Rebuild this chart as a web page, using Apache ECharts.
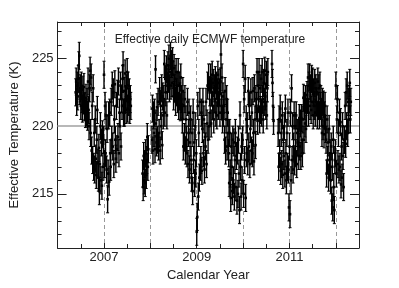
<!DOCTYPE html>
<html>
<head>
<meta charset="utf-8">
<script src="https://cdn.jsdelivr.net/npm/echarts@6/dist/echarts.min.js"></script>
<style>html,body{margin:0;padding:0;background:#fff}#c{width:399px;height:288px}</style>
</head>
<body>
<div id="c"></div>
<script>
// Daily effective temperature (K), sampled every 1/90 year from t0; null = no data
const t0 = 2006.39;
const perYear = 90;
const temps = [
  222.5,223.3,221.8,223.0,222.2,223.5,224.5,225.2,222.6,
  222.8,221.5,223.0,222.0,221.3,222.7,221.9,222.9,221.4,
  221.5,220.9,222.1,221.0,221.8,220.7,223.3,221.2,220.0,
  222.8,224.1,219.5,223.6,218.2,221.5,217.5,222.8,217.0,
  219.5,216.8,220.5,217.6,216.4,219.0,221.2,217.3,216.2,
  218.4,215.2,217.2,220.0,216.0,218.8,215.6,219.4,217.0,
  219.0,223.8,217.2,221.5,218.0,220.8,216.8,219.8,214.6,
  216.5,220.8,215.9,221.0,218.0,217.0,221.8,219.0,223.0,
  218.5,222.5,217.2,220.5,223.1,219.0,217.6,221.5,218.3,
  222.4,219.2,223.3,218.0,221.0,220.0,223.0,218.5,222.0,
  221.5,223.5,224.5,221.0,222.6,221.0,223.9,222.0,221.2,
  222.8,224.0,221.3,223.0,221.8,222.5,221.2,222.0,221.5,
  null,null,null,null,null,null,null,null,null,
  null,null,null,null,null,null,null,null,null,
  null,null,null,null,216.5,215.5,217.8,216.0,217.2,
  215.8,218.0,216.4,217.5,219.2,217.0,218.3,null,null,
  null,null,null,null,219.0,221.3,218.2,220.8,219.5,
  221.0,218.3,224.2,220.2,218.8,221.4,219.0,221.8,218.5,
  219.5,222.6,218.2,221.5,220.0,222.8,218.6,222.2,220.8,
  222.0,224.6,221.0,223.5,222.5,224.2,220.8,223.0,224.5,
  223.5,225.0,222.8,224.0,225.2,223.0,224.6,223.2,224.8,
  223.8,222.2,224.3,222.8,223.5,221.8,224.0,222.5,223.0,
  222.0,224.0,221.5,223.0,222.2,221.4,223.6,222.0,221.6,
  220.5,222.6,218.5,221.5,219.2,222.0,218.2,220.5,219.0,
  218.0,221.8,217.2,219.5,221.0,216.8,218.8,220.5,217.5,
  216.2,219.5,215.2,221.0,217.5,218.8,215.8,220.0,216.5,
  218.0,212.2,213.3,221.5,214.8,219.5,216.2,221.8,217.0,
  217.5,221.0,216.7,219.8,221.8,218.0,220.5,216.8,219.2,
  218.5,221.8,217.2,220.2,223.0,219.0,223.6,220.0,222.5,
  221.0,223.6,220.2,222.5,223.8,221.5,223.2,220.5,222.8,
  222.0,223.4,221.0,223.0,220.8,222.5,223.8,221.5,223.2,
  222.5,221.0,223.3,225.3,221.5,223.6,220.5,222.2,221.0,
  221.5,219.0,222.6,218.2,220.5,222.0,218.5,221.0,219.5,
  218.0,215.8,219.5,216.5,214.7,218.5,217.0,215.2,219.0,
  216.0,218.8,214.8,217.5,219.5,215.5,217.8,214.5,218.2,
  215.0,219.0,216.5,213.8,220.8,217.0,214.8,218.5,216.0,
  219.0,224.6,215.0,222.0,217.5,223.5,214.7,220.5,218.0,
  220.0,217.4,222.6,218.5,221.5,217.2,219.8,222.5,218.2,
  221.0,218.0,222.6,219.5,217.4,222.8,220.5,218.6,222.0,
  221.5,224.0,220.4,223.0,222.0,224.0,220.5,222.8,221.2,
  223.5,221.0,224.0,222.0,220.5,223.2,221.8,224.1,222.2,
  221.5,223.8,220.8,222.8,224.0,null,null,null,null,
  null,null,null,224.6,223.2,221.5,220.4,null,null,
  null,null,null,null,null,null,219.5,217.0,220.5,
  218.0,221.3,216.7,219.5,217.2,220.8,216.4,219.0,217.8,
  220.0,216.5,221.3,218.0,216.0,219.5,217.0,221.0,216.8,
  214.0,218.5,213.5,221.0,216.0,222.8,217.5,220.0,216.8,
  218.5,220.8,217.4,220.0,218.0,220.8,217.2,219.5,218.8,
  219.5,217.8,220.6,218.5,220.2,217.8,220.6,219.0,218.0,
  220.5,222.1,219.0,221.5,220.2,222.0,219.8,221.0,222.3,
  222.0,223.6,221.0,223.0,223.6,221.5,222.8,221.2,223.5,
  221.8,223.3,220.8,222.5,221.5,223.2,221.0,222.8,221.8,
  222.5,220.8,223.3,221.5,222.8,220.8,223.0,221.5,222.0,
  221.0,219.5,221.8,220.0,221.6,219.4,220.8,221.5,219.8,
  219.0,216.5,220.5,217.5,218.8,216.2,219.8,217.0,218.0,
  216.0,218.5,214.5,217.0,214.0,219.0,215.5,213.8,217.5,
  218.0,223.0,216.5,220.5,222.0,217.2,219.5,216.8,221.0,
  217.0,220.3,215.7,218.5,216.2,220.0,217.8,215.5,219.0,
  219.0,221.5,218.7,222.5,220.0,223.0,219.5,221.8,220.5,
  222.0,223.2,220.5,221.8
];
const errK = 1.0;
const refLevel = 220;
const xLabelYears = [2007, 2009, 2011];
const yLabelValues = [215, 220, 225];

const points = [];
temps.forEach((v, i) => { if (v !== null) points.push([t0 + i / perYear, v, errK]); });

const chart = echarts.init(document.getElementById('c'), null, {renderer: 'canvas'});
const font = 'Liberation Sans, Arial, sans-serif';
const axisCol = '#222';
const gridCfg = {left: 52, right: 40, top: 22, bottom: 40};

const xBase = {
  type: 'value', min: 2006, max: 2012.5, interval: 1,
  axisLine: {show: true, lineStyle: {color: axisCol, width: 1}},
  axisTick: {show: true, inside: true, length: 5, lineStyle: {color: axisCol}},
  minorTick: {show: true, splitNumber: 2, length: 4, lineStyle: {color: axisCol}},
  splitLine: {show: false}
};
const yBase = {
  type: 'value', min: 211, max: 227.7, interval: 1,
  axisLine: {show: true, lineStyle: {color: axisCol, width: 1}},
  axisTick: {show: true, inside: true, length: 4, lineStyle: {color: axisCol}},
  splitLine: {show: false}
};

chart.setOption({
  animation: false,
  backgroundColor: '#fff',
  grid: gridCfg,
  title: {
    text: 'Effective daily ECMWF temperature', left: 205, top: 29, textAlign: 'center',
    textStyle: {fontFamily: font, fontSize: 12, fontWeight: 'normal', color: '#222'}
  },
  xAxis: [
    Object.assign({}, xBase, {
      position: 'bottom',
      name: 'Calendar Year', nameLocation: 'middle', nameGap: 16,
      nameTextStyle: {fontFamily: font, fontSize: 13, color: '#222'},
      axisLabel: {show: true, margin: 3, fontFamily: font, fontSize: 13, color: '#222',
        formatter: v => xLabelYears.indexOf(Math.round(v)) >= 0 && Math.abs(v - Math.round(v)) < 1e-6 ? String(Math.round(v)) : ''},
      splitLine: {show: true, lineStyle: {color: '#999', type: [4, 3], width: 1}}
    }),
    Object.assign({}, xBase, {position: 'top', axisLabel: {show: false}})
  ],
  yAxis: [
    Object.assign({}, yBase, {
      position: 'left',
      name: 'Effective Temperature (K)', nameLocation: 'middle', nameGap: 31,
      nameTextStyle: {fontFamily: font, fontSize: 13, color: '#222'},
      axisLabel: {show: true, margin: 4, fontFamily: font, fontSize: 13, color: '#222',
        formatter: v => yLabelValues.indexOf(v) >= 0 ? String(v) : ''}
    }),
    Object.assign({}, yBase, {position: 'right', axisLabel: {show: false}}),
    Object.assign({}, yBase, {position: 'left', axisLine: {show: false}, axisLabel: {show: false},
      axisTick: {show: true, inside: true, length: 9, customValues: yLabelValues, lineStyle: {color: axisCol}}}),
    Object.assign({}, yBase, {position: 'right', axisLine: {show: false}, axisLabel: {show: false},
      axisTick: {show: true, inside: true, length: 9, customValues: yLabelValues, lineStyle: {color: axisCol}}})
  ],
  series: [
    {
      type: 'line', data: [], xAxisIndex: 0, yAxisIndex: 0, z: 1,
      markLine: {
        silent: true, symbol: 'none', label: {show: false}, z: 1,
        lineStyle: {color: '#b8b8b8', width: 2, type: 'solid'},
        data: [{yAxis: refLevel}]
      }
    },
    {
      type: 'custom',
      xAxisIndex: 0, yAxisIndex: 0,
      data: points,
      z: 3,
      renderItem: function (params, api) {
        const x = api.value(0), y = api.value(1), e = api.value(2);
        const p = api.coord([x, y]);
        const t = api.coord([x, y + e]);
        const b = api.coord([x, y - e]);
        const st = {stroke: '#000', lineWidth: 1.4};
        return {
          type: 'group',
          children: [
            {type: 'line', shape: {x1: p[0], y1: t[1], x2: p[0], y2: b[1]}, style: st},
            {type: 'line', shape: {x1: p[0] - 1.5, y1: t[1], x2: p[0] + 1.5, y2: t[1]}, style: {stroke: '#000', lineWidth: 1}},
            {type: 'line', shape: {x1: p[0] - 1.5, y1: b[1], x2: p[0] + 1.5, y2: b[1]}, style: {stroke: '#000', lineWidth: 1}},
            {type: 'rect', shape: {x: p[0] - 1.3, y: p[1] - 1.3, width: 2.6, height: 2.6}, style: {fill: '#000'}}
          ]
        };
      }
    }
  ]
});
</script>
</body>
</html>
